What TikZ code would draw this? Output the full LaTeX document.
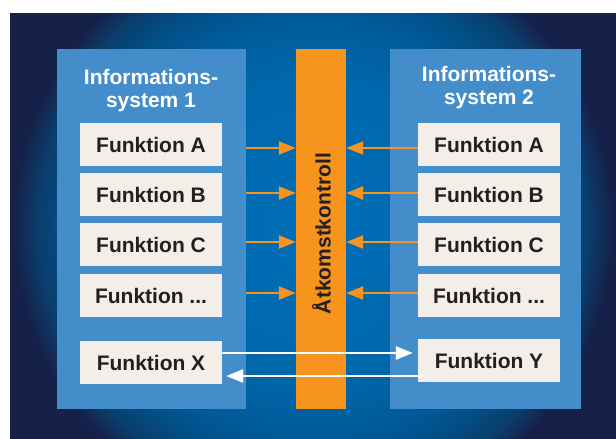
\documentclass[tikz,border=0pt]{standalone}
\usepackage{fontspec}
\setmainfont{Liberation Sans}
\usetikzlibrary{arrows.meta,calc}

% palette
\definecolor{navy}{HTML}{16214A}
\definecolor{glowA}{HTML}{006FB8}
\definecolor{glowB}{HTML}{0067AC}
\definecolor{glowC}{HTML}{005C9A}
\definecolor{glowD}{HTML}{02508A}
\definecolor{glowE}{HTML}{0A3E6C}
\definecolor{panelblue}{HTML}{448DCB}
\definecolor{cream}{HTML}{F3EEE8}
\definecolor{inkdark}{HTML}{231F20}
\definecolor{accent}{HTML}{F7941D}

% radial glow of the backdrop: 25bp is the rim of the shaded circle
\pgfdeclareradialshading{bgglow}{\pgfpoint{0bp}{0bp}}{%
  color(0bp)=(glowA);
  color(9.9bp)=(glowB);
  color(13.6bp)=(glowC);
  color(15.8bp)=(glowD);
  color(18.1bp)=(glowE);
  color(19.7bp)=(navy);
  color(50bp)=(navy)}

\newcommand{\lblfont}{\fontsize{21}{23}\selectfont\bfseries}
\newcommand{\funcdots}{...}

\begin{document}
\begin{tikzpicture}[x=1pt,y=-1pt,
  panel/.style={fill=panelblue, draw=none, inner sep=0pt, minimum height=360pt},
  barbox/.style={fill=accent, draw=none, inner sep=0pt, minimum width=50pt, minimum height=360pt},
  barlabel/.style={text=inkdark, inner sep=0pt, font=\lblfont},
  title/.style={text=white, align=center, inner sep=0pt, font=\lblfont},
  fbox/.style={fill=cream, text=inkdark, inner sep=0pt, minimum width=142pt, minimum height=43pt, font=\lblfont},
  oarrow/.style={draw=accent, line width=2.4pt, -{Triangle[length=17pt,width=13pt]}},
  warrow/.style={draw=white, line width=2.6pt, -{Triangle[length=17pt,width=13pt]}}]

\useasboundingbox (0,0) rectangle (616,439);

% backdrop
\begin{scope}
  \clip (10,13) rectangle (616,439);
  \fill[navy] (10,13) rectangle (616,439);
  \shade[shading=bgglow] (313,226) circle (380);
\end{scope}

% the two systems and the access control bar
\node[panel, minimum width=189pt] (sys1) at (151.5,229) {};
\node[panel, minimum width=191pt] (sys2) at (485.5,229) {};
\node[barbox] (bar) at (321,229) {};
\node[barlabel, rotate=90, anchor=base] (ctl) at (330.5,233.5) {Åtkomstkontroll};

% titles
\node[title] (t1) at (151,90.5) {Informations-\\system 1};
\node[title] (t2) at (489,87.5) {Informations-\\system 2};

% function boxes
\foreach \n/\t/\y in {a/A/144.5, b/B/194.5, c/C/244.5, d/\funcdots/295.5} {
  \node[fbox] (l\n) at (151,\y) {Funktion \t};
  \node[fbox] (r\n) at (489,\y) {Funktion \t};
}
\node[fbox] (lX) at (151,362.5) {Funktion X};
\node[fbox] (rY) at (489,360.5) {Funktion Y};

% requests passing through the access control
\foreach \n/\o in {a/3.5, b/-1.5, c/-2.5, d/-2.5} {
  \draw[oarrow] ($(sys1.east |- l\n.center)+(0,\o)$) -- ($(bar.west |- l\n.center)+(0,\o)$);
  \draw[oarrow] ($(r\n.west)+(0,\o)$) -- ($(bar.east |- r\n.center)+(0,\o)$);
}

% direct exchange between X and Y
\draw[warrow] ($(lX.east)+(0,-9.5)$) -- ($(rY.west |- lX.east)+(-5,-9.5)$);
\draw[warrow] ($(rY.west |- lX.east)+(8,13.5)$) -- ($(lX.east)+(4,13.5)$);

\end{tikzpicture}
\end{document}
